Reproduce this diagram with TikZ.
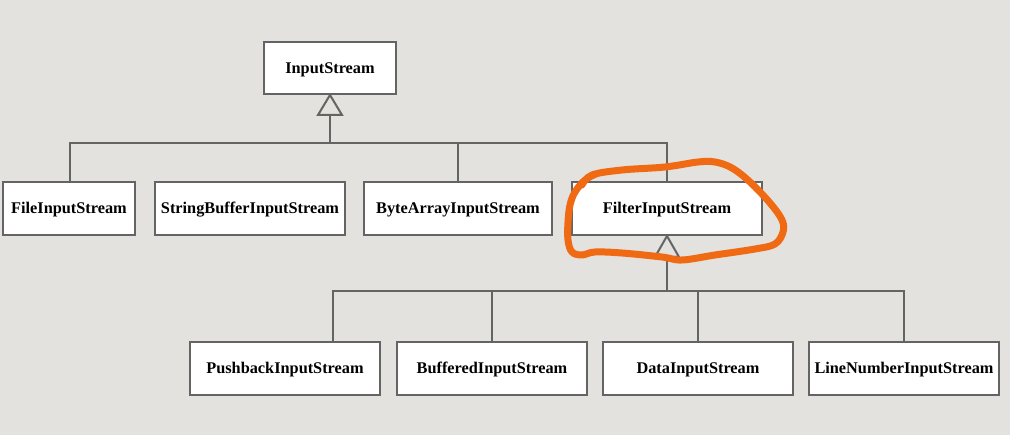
\documentclass[tikz,border=0pt]{standalone}
\usepackage{fontspec}
\setmainfont{Liberation Serif}
\usetikzlibrary{calc}
\definecolor{bg}{RGB}{227,226,222}
\definecolor{ln}{RGB}{100,100,100}
\definecolor{hl}{RGB}{240,106,20}
\tikzset{
  cls/.style={draw=ln, line width=2pt, fill=white, minimum height=53pt, inner sep=0pt,
    text height=11pt, text depth=0pt, font=\fontsize{16.3}{18}\selectfont\bfseries},
  wide/.style={cls, minimum width=190pt},
  conn/.style={draw=ln, line width=2pt},
  inh/.style={draw=ln, line width=2pt, fill=bg, line join=miter}
}
\begin{document}
\begin{tikzpicture}[x=1pt,y=-1pt]
\fill[bg] (0,0) rectangle (1010,435);
\useasboundingbox (0,0) rectangle (1010,435);
% top
\node[cls, minimum width=132pt, minimum height=52pt] (in) at (330,68) {InputStream};
% row 1
\node[cls, minimum width=132pt] (file) at (69,208.5) {FileInputStream};
\node[wide] (sb) at (250,208.5) {StringBufferInputStream};
\node[cls, minimum width=188pt] (ba) at (458,208.5) {ByteArrayInputStream};
\node[wide] (filter) at (667,208.5) {FilterInputStream};
% row 2
\node[wide] (push) at (285,368.5) {PushbackInputStream};
\node[wide] (buf) at (492,368.5) {BufferedInputStream};
\node[wide] (data) at (698,368.5) {DataInputStream};
\node[wide] (line) at (904,368.5) {LineNumberInputStream};
% generalisation 1
\coordinate (t1) at ($(in.south)+(0,20)$);
\coordinate (bus1) at (330,143);
\draw[conn] (t1) -- (bus1);
\draw[conn] ($(file.north)+(1,0)$) |- (bus1) -| (filter.north);
\draw[conn] ($(sb.north)+(-1,0)$) -- ($(sb.north)+(-1,0)$ |- bus1);
\draw[conn] (ba.north) -- (ba.north |- bus1);
\draw[inh] (in.south) -- ($(t1)+(-12,0)$) -- ($(t1)+(12,0)$) -- cycle;
% generalisation 2
\coordinate (t2) at ($(filter.south)+(0,21)$);
\coordinate (bus2) at (667,291);
\coordinate (pc) at ($(push.north)+(48,0)$);
\draw[conn] (t2) -- (bus2);
\draw[conn] (pc) |- (bus2) -| (line.north);
\draw[conn] (buf.north) -- (buf.north |- bus2);
\draw[conn] (data.north) -- (data.north |- bus2);
\draw[inh] (filter.south) -- ($(t2)+(-12,0)$) -- ($(t2)+(12,0)$) -- cycle;
% highlight loop
\draw[hl, line width=7pt, line cap=round, line join=round]
  plot[smooth, tension=0.6] coordinates {
  (582,185) (592,175) (622,170) (665,167) (698,162) (715,162) (732,168)
  (750,182) (770,203) (782,220) (783,232) (775,244) (755,249) (715,255)
  (682,260) (662,257) (622,253) (595,252) (582,255) (572,252) (568,240)
  (568,222) (570,205) (575,192) (585,180) (596,174)};
\end{tikzpicture}
\end{document}
